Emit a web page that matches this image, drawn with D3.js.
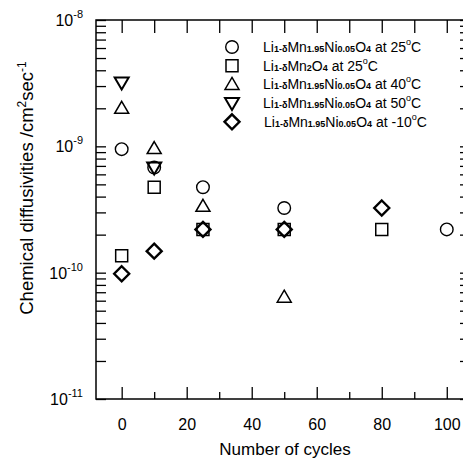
<!DOCTYPE html>
<html>
<head>
<meta charset="utf-8">
<script src="https://cdn.jsdelivr.net/npm/d3@7"></script>
<style>
  html, body { margin: 0; padding: 0; background: #fff; }
  svg { display: block; font-family: Arial, "Liberation Sans", sans-serif; }
</style>
</head>
<body>
<svg id="chart" width="463" height="460"></svg>
<script>
// ---- data ----
const xTicksMajor = [0, 20, 40, 60, 80, 100];
const xTicksMinor = [10, 30, 50, 70, 90];
const yDecades = [-8, -9, -10, -11];

const circleX = [0, 10, 25, 50, 100];
const circleY = [9.5e-10, 6.8e-10, 4.75e-10, 3.25e-10, 2.2e-10];
const squareX = [0, 10, 25, 50, 80];
const squareY = [1.36e-10, 4.75e-10, 2.2e-10, 2.2e-10, 2.2e-10];
const triUpX = [0, 10, 25, 50];
const triUpY = [2.0e-9, 9.6e-10, 3.35e-10, 6.4e-11];
const triDownX = [0, 10];
const triDownY = [3.2e-9, 6.8e-10];
const diamondX = [0, 10, 25, 50, 80];
const diamondY = [9.8e-11, 1.48e-10, 2.2e-10, 2.2e-10, 3.25e-10];

const legendLabels = [
  [["Li",""],["1-δ","s"],["Mn",""],["1.95","s"],["Ni",""],["0.05","s"],["O",""],["4","s"],[" at 25",""],["o","d"],["C",""]],
  [["Li",""],["1-δ","s"],["Mn",""],["2","s"],["O",""],["4","s"],[" at 25",""],["o","d"],["C",""]],
  [["Li",""],["1-δ","s"],["Mn",""],["1.95","s"],["Ni",""],["0.05","s"],["O",""],["4","s"],[" at 40",""],["o","d"],["C",""]],
  [["Li",""],["1-δ","s"],["Mn",""],["1.95","s"],["Ni",""],["0.05","s"],["O",""],["4","s"],[" at 50",""],["o","d"],["C",""]],
  [["Li",""],["1-δ","s"],["Mn",""],["1.95","s"],["Ni",""],["0.05","s"],["O",""],["4","s"],[" at -10",""],["o","d"],["C",""]]
];

// ---- layout ----
const L = 96, R = 464, T = 20, B = 399;
const svg = d3.select("#chart");
const x = d3.scaleLinear().domain([-7.9, 105.3]).range([L, R]);
const y = d3.scaleLog().domain([1e-11, 1e-8]).range([B, T]);

// frame
svg.append("rect").attr("x", L).attr("y", T).attr("width", R - L).attr("height", B - T)
  .attr("fill", "none").attr("stroke", "#000").attr("stroke-width", 1.5);

// bottom x axis
const xAxisB = d3.axisBottom(x).tickValues(xTicksMajor).tickSize(-12).tickPadding(20).tickFormat(d3.format("d"));
const gx = svg.append("g").attr("transform", `translate(0,${B})`).call(xAxisB);
gx.select(".domain").remove();
gx.selectAll("line").attr("stroke-width", 1.3);
gx.selectAll("text").attr("font-size", 16).attr("font-family", "Arial, 'Liberation Sans', sans-serif").attr("fill", "#000");
const gxm = svg.append("g").attr("transform", `translate(0,${B})`)
  .call(d3.axisBottom(x).tickValues(xTicksMinor).tickSize(-7).tickFormat(""));
gxm.select(".domain").remove();
gxm.selectAll("line").attr("stroke-width", 1.3);

// top axis ticks
const gt = svg.append("g").attr("transform", `translate(0,${T})`)
  .call(d3.axisTop(x).tickValues(xTicksMajor.concat(xTicksMinor)).tickSize(-13).tickFormat(""));
gt.select(".domain").remove();
gt.selectAll("line").attr("stroke-width", 1.3);

// left y axis: major + minor ticks
const yTickVals = [];
for (let e = -11; e < -8; e++) for (let m = 1; m <= 9; m++) yTickVals.push(m * Math.pow(10, e));
yTickVals.push(1e-8);
const gy = svg.append("g").attr("transform", `translate(${L},0)`)
  .call(d3.axisLeft(y).tickValues(yTickVals).tickSize(-10).tickFormat(""));
gy.select(".domain").remove();
gy.selectAll("line").attr("stroke-width", 1.3);

// right axis ticks (short, partly cut)
const gr = svg.append("g").attr("transform", `translate(${R},0)`)
  .call(d3.axisRight(y).tickValues(yTickVals).tickSize(-4).tickFormat(""));
gr.select(".domain").remove();
gr.selectAll("line").attr("stroke-width", 1.3);

// y tick labels 10^n
yDecades.forEach(e => {
  const t = svg.append("text").attr("x", 83).attr("y", y(Math.pow(10, e)) + 6)
    .attr("text-anchor", "end").attr("font-size", 16).attr("fill", "#000");
  t.append("tspan").text("10");
  t.append("tspan").attr("font-size", 11).attr("dy", -8).text(String(e));
});

// axis titles
svg.append("text").attr("x", 285).attr("y", 455).attr("text-anchor", "middle")
  .attr("font-size", 17).attr("fill", "#000").text("Number of cycles");
const yt = svg.append("text").attr("transform", "translate(33,188) rotate(-90)")
  .attr("text-anchor", "middle").attr("font-size", 18.5).attr("fill", "#000");
yt.append("tspan").text("Chemical diffusivities /cm");
yt.append("tspan").attr("font-size", 12).attr("dy", -7).text("2");
yt.append("tspan").attr("dy", 7).text("sec");
yt.append("tspan").attr("font-size", 12).attr("dy", -7).text("-1");

// markers
function marker(g, type, cx, cy) {
  if (type === "circle") {
    g.append("circle").attr("cx", cx).attr("cy", cy).attr("r", 6.3)
      .attr("fill", "none").attr("stroke", "#000").attr("stroke-width", 1.4);
    return;
  }
  let d;
  if (type === "square") d = `M${cx-6},${cy-6}h12v12h-12z`;
  if (type === "up") d = `M${cx},${cy-7}L${cx+7},${cy+5}L${cx-7},${cy+5}Z`;
  if (type === "down") d = `M${cx},${cy+7}L${cx+7},${cy-5}L${cx-7},${cy-5}Z`;
  if (type === "diamond") d = `M${cx},${cy-7.5}L${cx+7.5},${cy}L${cx},${cy+7.5}L${cx-7.5},${cy}Z`;
  g.append("path").attr("d", d).attr("fill", "none").attr("stroke", "#000")
    .attr("stroke-width", type === "diamond" ? 2.4 : (type === "down" ? 2 : 1.5))
    .attr("stroke-linejoin", "miter");
}

const series = [
  { type: "circle", xs: circleX, ys: circleY },
  { type: "square", xs: squareX, ys: squareY },
  { type: "up", xs: triUpX, ys: triUpY },
  { type: "down", xs: triDownX, ys: triDownY },
  { type: "diamond", xs: diamondX, ys: diamondY }
];
const gm = svg.append("g");
series.forEach(s => {
  s.xs.forEach((xv, i) => marker(gm, s.type, x(xv), y(s.ys[i])));
});

// legend
const lg = svg.append("g");
const legY0 = 47, legDy = 18.7;
series.forEach((s, i) => {
  const cy = legY0 + i * legDy;
  marker(lg, s.type, 232, cy);
  const t = lg.append("text").attr("x", i === 4 ? 264 : 263).attr("y", cy + 5)
    .attr("font-size", 14).attr("fill", "#000");
  legendLabels[i].forEach(([txt, kind]) => {
    const ts = t.append("tspan").text(txt);
    if (kind === "s") ts.attr("font-size", 9).attr("font-weight", "bold");
    if (kind === "d") ts.attr("font-size", 9).attr("dy", -7);
    if (kind === "" && txt === "C") ts.attr("dy", 7);
  });
});
</script>
</body>
</html>
